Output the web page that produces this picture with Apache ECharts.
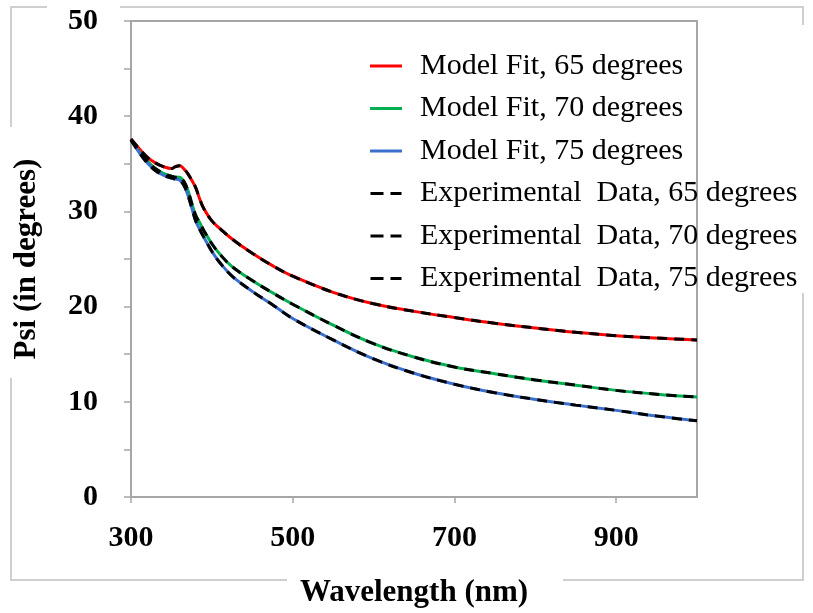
<!DOCTYPE html>
<html>
<head>
<meta charset="utf-8">
<script src="https://cdn.jsdelivr.net/npm/echarts@6/dist/echarts.min.js"></script>
<style>
html,body{margin:0;padding:0;background:#fff;}
#chart{width:813px;height:613px;}
</style>
</head>
<body>
<div id="chart"></div>
<script>
// Wavelength (nm)
const wavelengths = [300,310,320,330,340,350,355,360,365,370,375,380,385,390,400,410,425,450,475,500,550,600,650,700,750,800,850,900,950,1000];
// Psi (degrees)
const model65 = [37.6,36.6,35.7,35.1,34.7,34.5,34.7,34.8,34.5,34.0,33.3,32.5,31.3,30.3,29.0,28.2,27.1,25.6,24.3,23.2,21.5,20.3,19.5,18.85,18.25,17.75,17.3,16.95,16.7,16.5];
const model70 = [37.5,36.3,35.3,34.5,34.0,33.7,33.6,33.6,33.2,32.3,30.9,29.6,28.8,28.0,26.6,25.5,24.2,22.75,21.45,20.25,18.05,16.1,14.7,13.65,12.95,12.3,11.75,11.2,10.8,10.5];
const model75 = [37.5,36.2,35.1,34.3,33.8,33.5,33.4,33.3,32.8,31.8,30.4,29.0,28.1,27.3,25.8,24.6,23.2,21.6,20.2,18.75,16.5,14.5,13.0,11.85,10.95,10.25,9.65,9.1,8.5,8.0];
// experimental data coincide with the model fits in the picture
const exp65 = model65;
const exp70 = model70;
const exp75 = model75;
const xTicks = [300,500,700,900];
const seriesNames = ['Model Fit, 65 degrees','Model Fit, 70 degrees','Model Fit, 75 degrees','Experimental  Data, 65 degrees','Experimental  Data, 70 degrees','Experimental  Data, 75 degrees'];

const pair = arr => wavelengths.map((w,i)=>[w,arr[i]]);
const FONT = '"Liberation Serif","Times New Roman",serif';
const GREY = '#a6a6a6';
const FRAME = '#cfcfcf';
const DASH_ICON = 'path://M0,0h13v3h-13z M20,0h11v3h-11z';

const chart = echarts.init(document.getElementById('chart'));
const modelColors = ['#ff0000','#00b050','#3a6fce'];
const modelData = [model65, model70, model75];
const expData = [exp65, exp70, exp75];
const series = [];
modelData.forEach((d,i)=>series.push({
  name: seriesNames[i], type:'line', data: pair(d), smooth:0.4, symbol:'none',
  lineStyle:{color:modelColors[i], width:3}, itemStyle:{color:modelColors[i]}, z:2
}));
expData.forEach((d,i)=>series.push({
  name: seriesNames[3+i], type:'line', data: pair(d), smooth:0.4, symbol:'none',
  lineStyle:{color:'#000', width:3, type:[10,7]}, itemStyle:{color:'#000'}, z:3
}));

chart.setOption({
  backgroundColor:'#fff',
  animation:false,
  grid:{left:131, right:116, top:21, bottom:111, show:true, borderColor:GREY, borderWidth:2, containLabel:false},
  legend:{
    orient:'vertical', left:365, top:46, itemWidth:32, itemHeight:3, itemGap:12.5,
    data: seriesNames.map((n,i)=>({name:n, icon: i<3 ? 'rect' : DASH_ICON})),
    textStyle:{fontFamily:FONT, fontSize:30, color:'#000', lineHeight:30, padding:[0,0,0,13]}
  },
  xAxis:{
    type:'value', min:300, max:1000, interval:200,
    name:'Wavelength (nm)', nameLocation:'middle', nameGap:80,
    nameTextStyle:{fontFamily:FONT, fontSize:31, fontWeight:'bold', color:'#000'},
    axisLine:{show:true, lineStyle:{color:GREY, width:2}},
    axisTick:{show:true, length:6, lineStyle:{color:GREY, width:1.5}, customValues:xTicks},
    axisLabel:{fontFamily:FONT, fontSize:30, fontWeight:'bold', color:'#000', margin:26, customValues:xTicks},
    splitLine:{show:false}
  },
  yAxis:{
    type:'value', min:0, max:50, interval:10,
    name:'Psi (in degrees)', nameLocation:'middle', nameGap:89, nameRotate:90,
    nameTextStyle:{fontFamily:FONT, fontSize:31, fontWeight:'bold', color:'#000'},
    axisLine:{show:true, lineStyle:{color:GREY, width:2}},
    axisTick:{show:true, length:7, lineStyle:{color:GREY, width:1.5}},
    minorTick:{show:true, splitNumber:2, length:7, lineStyle:{color:GREY, width:1.5}},
    axisLabel:{fontFamily:FONT, fontSize:30, fontWeight:'bold', color:'#000', margin:33, padding:[8,0,0,0]},
    splitLine:{show:false}
  },
  graphic:[
    {type:'polyline', shape:{points:[[47,7],[11,7],[11,127]]}, style:{stroke:FRAME, lineWidth:2, fill:null}, silent:true},
    {type:'polyline', shape:{points:[[120,7],[803,7],[803,25]]}, style:{stroke:FRAME, lineWidth:2, fill:null}, silent:true},
    {type:'polyline', shape:{points:[[11,378],[11,580],[287,580]]}, style:{stroke:FRAME, lineWidth:2, fill:null}, silent:true},
    {type:'polyline', shape:{points:[[563,580],[803,580],[803,293]]}, style:{stroke:FRAME, lineWidth:2, fill:null}, silent:true}
  ],
  series: series
});
</script>
</body>
</html>
